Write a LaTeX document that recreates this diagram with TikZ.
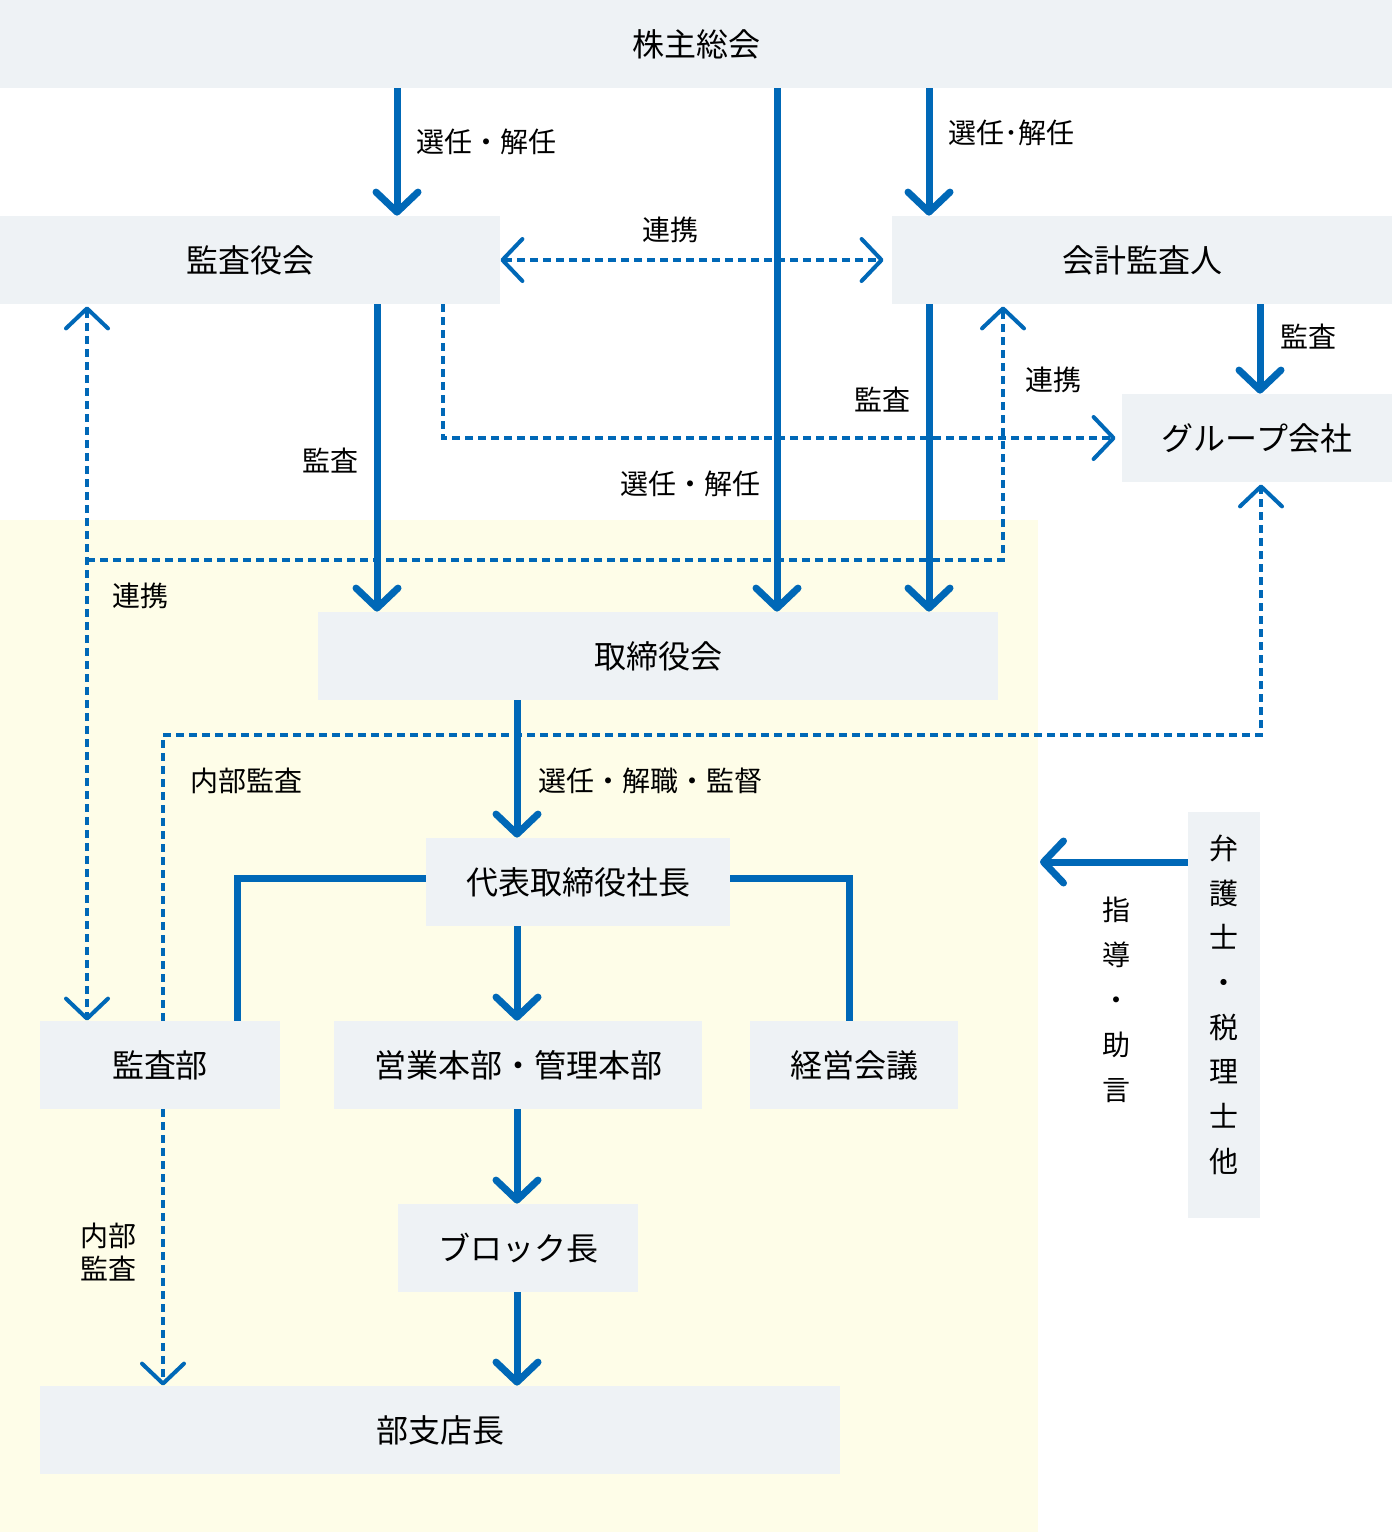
\documentclass[tikz,border=0pt]{standalone}
\usepackage{fontspec}
\setmainfont{Noto Sans CJK JP}
\usetikzlibrary{arrows.meta}
\definecolor{boxgray}{HTML}{EEF2F5}
\definecolor{paleyellow}{HTML}{FEFDE8}
\definecolor{lineblue}{HTML}{0068B7}
\tikzset{ box/.style = { fill           = boxgray
                       , inner sep      = 0pt
                       , minimum height = 44pt
                       , font = \fontsize{16pt}{18pt}\selectfont
                       },
          lbl/.style = { inner sep = 0pt
                       , font = \fontsize{14pt}{16pt}\selectfont
                       },
          bar/.style = { draw       = lineblue
                       , line width = 3.5pt
                       },
         main/.style = { bar
                       , -{Straight Barb[length=10pt, width=21pt, round]}
                       },
         link/.style = { draw         = lineblue
                       , line width   = 2pt
                       , dash pattern = on 4pt off 2.5pt
                       , -{Straight Barb[length=10pt, width=21pt, round]}
                       }
        }
\begin{document}
\begin{tikzpicture}[x=0.5pt, y=-0.5pt]
          \useasboundingbox (0,0) rectangle (1392,1532);
          \fill[white] (0,0) rectangle (1392,1532);
          \fill[paleyellow] (0,520) rectangle (1038,1532);
          \foreach \n/\x/\y/\w/\t in {sokai/696/44/696/株主総会,
                                      kansayaku/250/260/250/監査役会,
                                      kaikei/1142/260/250/会計監査人,
                                      group/1257/438/135/グループ会社,
                                      torishimari/658/656/340/取締役会,
                                      shacho/578/882/152/代表取締役社長,
                                      kansabu/160/1065/120/監査部,
                                      eigyo/518/1065/184/営業本部・管理本部,
                                      keiei/854/1065/104/経営会議,
                                      block/518/1248/120/ブロック長,
                                      bushiten/440/1430/400/部支店長} {
            \node[box, minimum width=\w pt] (\n) at (\x,\y) {\t};
          }
          \node[box, minimum width=36pt, minimum height=203pt, align=center, text depth=11.5pt,
                font=\fontsize{14.5pt}{22.35pt}\selectfont] (bengoshi) at (1224,1015)
               {弁\\護\\士\\・\\税\\理\\士\\他};
          \coordinate (renkei) at (87,560);
          \coordinate (naibu) at (163,735);
          \coordinate (shido) at (1040,862);
          % dashed links
          \draw[link, {Straight Barb[length=10pt, width=21pt, round]}-{Straight Barb[length=10pt, width=21pt, round]}]
                (kansayaku.east) -- ([xshift=-4pt]kaikei.west);
          \draw[link] (kansayaku.south -| 443,0) |- ([xshift=-3pt]group.west);
          \draw[link, {Straight Barb[length=10pt, width=21pt, round]}-{Straight Barb[length=10pt, width=21pt, round]}]
                ([yshift=-1pt]kansayaku.south -| renkei) -- (kansabu.north -| renkei);
          \draw[link] (renkei) -- (1003,560) -- ([yshift=-1pt]kaikei.south -| 1003,0);
          \draw[link] (kansabu.north -| naibu) -- (naibu) -| ([yshift=-1pt]group.south -| 1261,0);
          \draw[link] (kansabu.south -| naibu) -- (bushiten.north -| naibu);
          % solid arrows
          \foreach \a/\b/\x in {sokai/kansayaku/397, sokai/torishimari/777, sokai/kaikei/929,
                                kansayaku/torishimari/377, kaikei/torishimari/929,
                                kaikei/group/1260, torishimari/shacho/517,
                                shacho/eigyo/517, eigyo/block/517, block/bushiten/517} {
            \draw[main] (\a.south -| \x,0) -- (\b.north -| \x,0);
          }
          \draw[bar] (shacho.west |- 0,878) -| (kansabu.north -| 237,0);
          \draw[bar] (shacho.east |- 0,878) -| (keiei.north -| 849,0);
          \draw[main] (bengoshi.west |- shido) -- (shido);
          % labels
          \foreach \x/\y/\t in {486/142/選任・解任, 1011/133/選任･解任, 670/230/連携,
                                1308/337/監査, 1053/380/連携, 882/400/監査,
                                330/461/監査, 690/484/選任・解任, 140/596/連携,
                                246/781/内部監査, 650/781/選任・解職・監督} {
            \node[lbl] at (\x,\y) {\t};
          }
          \node[lbl, align=center, font=\fontsize{14pt}{22.5pt}\selectfont] (jogen) at (1116,1000)
               {指\\導\\・\\助\\言};
          \node[lbl, align=left, font=\fontsize{14pt}{16.5pt}\selectfont] (naibukansa) at (108,1252)
               {内部\\監査};
        \end{tikzpicture}
\end{document}
